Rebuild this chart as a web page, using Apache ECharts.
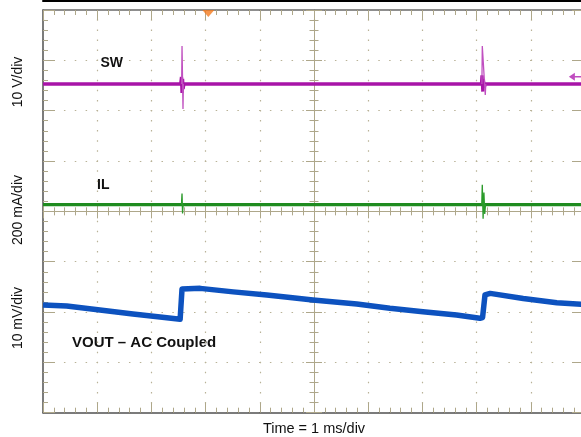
<!DOCTYPE html>
<html><head><meta charset="utf-8">
<script src="https://cdn.jsdelivr.net/npm/echarts@6/dist/echarts.min.js"></script>
<style>html,body{margin:0;padding:0;background:#fff}#c{width:581px;height:437px}</style>
</head><body><div id="c"></div>
<script>
// ---------- text ----------
const channelNames = ['SW', 'IL', 'VOUT – AC Coupled'];
const scaleLabels = ['10 V/div', '200 mA/div', '10 mV/div'];
const timeLabel = 'Time = 1 ms/div';

// ---------- SW (volts) ----------
const swTime  = [0, 2.54, 2.555, 2.565, 2.575, 2.585, 2.6, 8.09, 8.1, 8.115, 8.125, 8.14, 8.16, 10];
const swVolts = [5.3, 5.3, 6.7, 3.5, 6.3, 4.3, 5.3, 5.3, 7.0, 3.8, 6.2, 4.6, 5.3, 5.3];
const swSpikeTime  = [2.558, 2.565, 2.583, 2.59, null, 8.098, 8.105, 8.16, 8.17];
const swSpikeVolts = [5.3, 12.85, 0.34, 5.3, null, 5.3, 12.85, 3.1, 5.3];

// ---------- IL (mA) ----------
const ilTime = [0, 2.55, 2.6, 8.08, 8.18, 10];
const ilMilliamps = [27, 27, 27, 27, 27, 27];
const ilSpikeTime = [2.555, 2.565, 2.575, 2.585, null, 8.095, 8.105, 8.12, 8.135, 8.15, 8.165];
const ilSpikeMilliamps = [27, 71, -8, 27, null, 27, 106, -29, 75, -10, 27];

// ---------- VOUT (mV, AC coupled) ----------
const voutTime = [0, 0.437, 1.05, 1.66, 2.16, 2.53, 2.56, 2.565, 2.90, 3.51, 4.13, 4.56, 4.98, 5.79, 6.40, 7.01, 7.63, 8.06, 8.11, 8.155, 8.25, 8.86, 9.48, 10];
const voutMillivolts = [1.4, 1.2, 0.4, -0.4, -1.0, -1.45, -1.4, 4.57, 4.7, 4.0, 3.4, 2.9, 2.4, 1.6, 0.75, 0.06, -0.6, -1.25, -1.1, 3.4, 3.7, 2.7, 1.85, 1.5];

// ---------- scope markers ----------
const triggerTime = [3.05];
const triggerLevelVolts = [6.75];

function pairs(xs, ys) { return xs.map((x, i) => (x === null ? [null, null] : [x, ys[i]])); }

const tan = '#aea78a';
const dotCol = '#b9b297';
const font = '"Liberation Sans", Arial, sans-serif';
const noLabel = { show: false };

function baseX(extra) {
  return Object.assign({ type: 'value', min: 0, max: 10, interval: 1, axisLabel: noLabel, splitLine: { show: false } }, extra);
}
function baseY(extra) {
  return Object.assign({ type: 'value', min: 0, max: 8, interval: 1, axisLabel: noLabel, splitLine: { show: false } }, extra);
}

const chart = echarts.init(document.getElementById('c'), null, { renderer: 'canvas' });
chart.setOption({
  animation: false,
  backgroundColor: '#ffffff',
  grid: { left: 43, top: 10, width: 542, height: 402.7, outerBoundsMode: 'none', containLabel: false },
  xAxis: [
    baseX({ position: 'bottom',
      axisLine: { show: true, onZero: false, lineStyle: { color: '#505050', width: 1.5 } },
      axisTick: { show: true, inside: true, length: 10, lineStyle: { color: tan } },
      minorTick: { show: true, splitNumber: 5, length: 5, lineStyle: { color: tan } },
      splitLine: { show: true, lineStyle: { color: dotCol, width: 1.2, type: [1.5, 8.57], dashOffset: 0.75 } },
      name: timeLabel, nameLocation: 'middle', nameGap: 9,
      nameTextStyle: { fontFamily: font, fontSize: 14.5, color: '#111' } }),
    baseX({ position: 'top',
      axisLine: { show: true, onZero: false, lineStyle: { color: '#6a6a6a', width: 1.5 } },
      axisTick: { show: true, inside: true, length: 10, lineStyle: { color: tan } },
      minorTick: { show: true, splitNumber: 5, length: 5, lineStyle: { color: tan } } }),
    baseX({ position: 'bottom', offset: -201.35,
      axisLine: { show: true, onZero: false, lineStyle: { color: tan, width: 1 } },
      axisTick: { show: true, inside: true, length: 7, lineStyle: { color: tan } },
      minorTick: { show: true, splitNumber: 5, length: 4, lineStyle: { color: tan } } }),
    baseX({ position: 'bottom', offset: -201.35,
      axisLine: { show: false, onZero: false },
      axisTick: { show: true, inside: false, length: 7, lineStyle: { color: tan } },
      minorTick: { show: true, splitNumber: 5, length: 4, lineStyle: { color: tan } } }),
    baseX({ position: 'top', offset: 9,
      axisLine: { show: true, onZero: false, lineStyle: { color: '#000', width: 2 } },
      axisTick: { show: false } })
  ],
  yAxis: [
    baseY({ position: 'left',
      axisLine: { show: true, onZero: false, lineStyle: { color: '#505050', width: 1.5 } },
      axisTick: { show: true, inside: true, length: 12, lineStyle: { color: tan } },
      minorTick: { show: true, splitNumber: 5, length: 5, lineStyle: { color: tan } },
      splitLine: { show: true, lineStyle: { color: dotCol, width: 1.2, type: [1.5, 9.34], dashOffset: 0.75 } } }),
    baseY({ position: 'right',
      axisLine: { show: true, onZero: false, lineStyle: { color: '#505050', width: 1.5 } },
      axisTick: { show: true, inside: true, length: 13, lineStyle: { color: tan } },
      minorTick: { show: true, splitNumber: 5, length: 4, lineStyle: { color: tan } } }),
    baseY({ position: 'left', offset: -271,
      axisLine: { show: true, onZero: false, lineStyle: { color: tan, width: 1 } },
      axisTick: { show: true, inside: true, length: 8, lineStyle: { color: tan } },
      minorTick: { show: true, splitNumber: 5, length: 4.5, lineStyle: { color: tan } } }),
    baseY({ position: 'left', offset: -271,
      axisLine: { show: false, onZero: false },
      axisTick: { show: true, inside: false, length: 8, lineStyle: { color: tan } },
      minorTick: { show: true, splitNumber: 5, length: 4.5, lineStyle: { color: tan } } }),
    { type: 'value', show: false, min: -60, max: 20 },   // SW: 10 V/div
    { type: 'value', show: false, min: -800, max: 800 }, // IL: 200 mA/div
    { type: 'value', show: false, min: -20, max: 60 }    // VOUT: 10 mV/div
  ],
  series: [
    { name: 'VOUT', type: 'line', xAxisIndex: 0, yAxisIndex: 6, data: pairs(voutTime, voutMillivolts),
      showSymbol: false, lineStyle: { color: '#0d52bf', width: 5.5, join: 'round' }, z: 3 },
    { name: 'IL', type: 'line', xAxisIndex: 0, yAxisIndex: 5, data: pairs(ilTime, ilMilliamps),
      showSymbol: false, lineStyle: { color: '#1f8c1f', width: 3.2 }, z: 4 },
    { name: 'IL transient', type: 'line', xAxisIndex: 0, yAxisIndex: 5, data: pairs(ilSpikeTime, ilSpikeMilliamps),
      showSymbol: false, connectNulls: false, lineStyle: { color: '#2a9a2a', width: 1.3 }, z: 4 },
    { name: 'SW', type: 'line', xAxisIndex: 0, yAxisIndex: 4, data: pairs(swTime, swVolts),
      showSymbol: false, lineStyle: { color: '#a814a8', width: 3.3 }, z: 5 },
    { name: 'SW transient', type: 'line', xAxisIndex: 0, yAxisIndex: 4, data: pairs(swSpikeTime, swSpikeVolts),
      showSymbol: false, connectNulls: false, lineStyle: { color: '#c050c0', width: 1.3 }, z: 5 },
    { name: 'Trigger position', type: 'scatter', xAxisIndex: 0, yAxisIndex: 0,
      data: triggerTime.map(t => [t, 8]), symbol: 'path://M0,0 L12,0 L6,7 Z', symbolSize: [12, 7],
      symbolOffset: [0, 3.5], itemStyle: { color: '#f47a1e' }, z: 6, clip: false },
    { name: 'Trigger level', type: 'scatter', xAxisIndex: 0, yAxisIndex: 4,
      data: triggerLevelVolts.map(v => [9.85, v]),
      symbol: 'path://M0,4 L6,0 L6,3.2 L16,3.2 L16,4.8 L6,4.8 L6,8 Z', symbolSize: [16, 8],
      itemStyle: { color: '#b020b0' }, z: 6, clip: false }
  ],
  graphic: [
    { type: 'text', left: 100.5, top: 56, style: { text: channelNames[0], font: 'bold 14px ' + font, fill: '#111' } },
    { type: 'text', left: 97, top: 178.5, style: { text: channelNames[1], font: 'bold 14px ' + font, fill: '#111' } },
    { type: 'text', left: 72, top: 335.5, style: { text: channelNames[2], font: 'bold 15px ' + font, fill: '#111' } },
    { type: 'text', x: 18, y: 82, rotation: Math.PI / 2, style: { text: scaleLabels[0], font: '14px ' + font, fill: '#111', align: 'center', verticalAlign: 'middle' } },
    { type: 'text', x: 18, y: 210, rotation: Math.PI / 2, style: { text: scaleLabels[1], font: '14px ' + font, fill: '#111', align: 'center', verticalAlign: 'middle' } },
    { type: 'text', x: 18, y: 318, rotation: Math.PI / 2, style: { text: scaleLabels[2], font: '14px ' + font, fill: '#111', align: 'center', verticalAlign: 'middle' } }
  ]
});
</script></body></html>
